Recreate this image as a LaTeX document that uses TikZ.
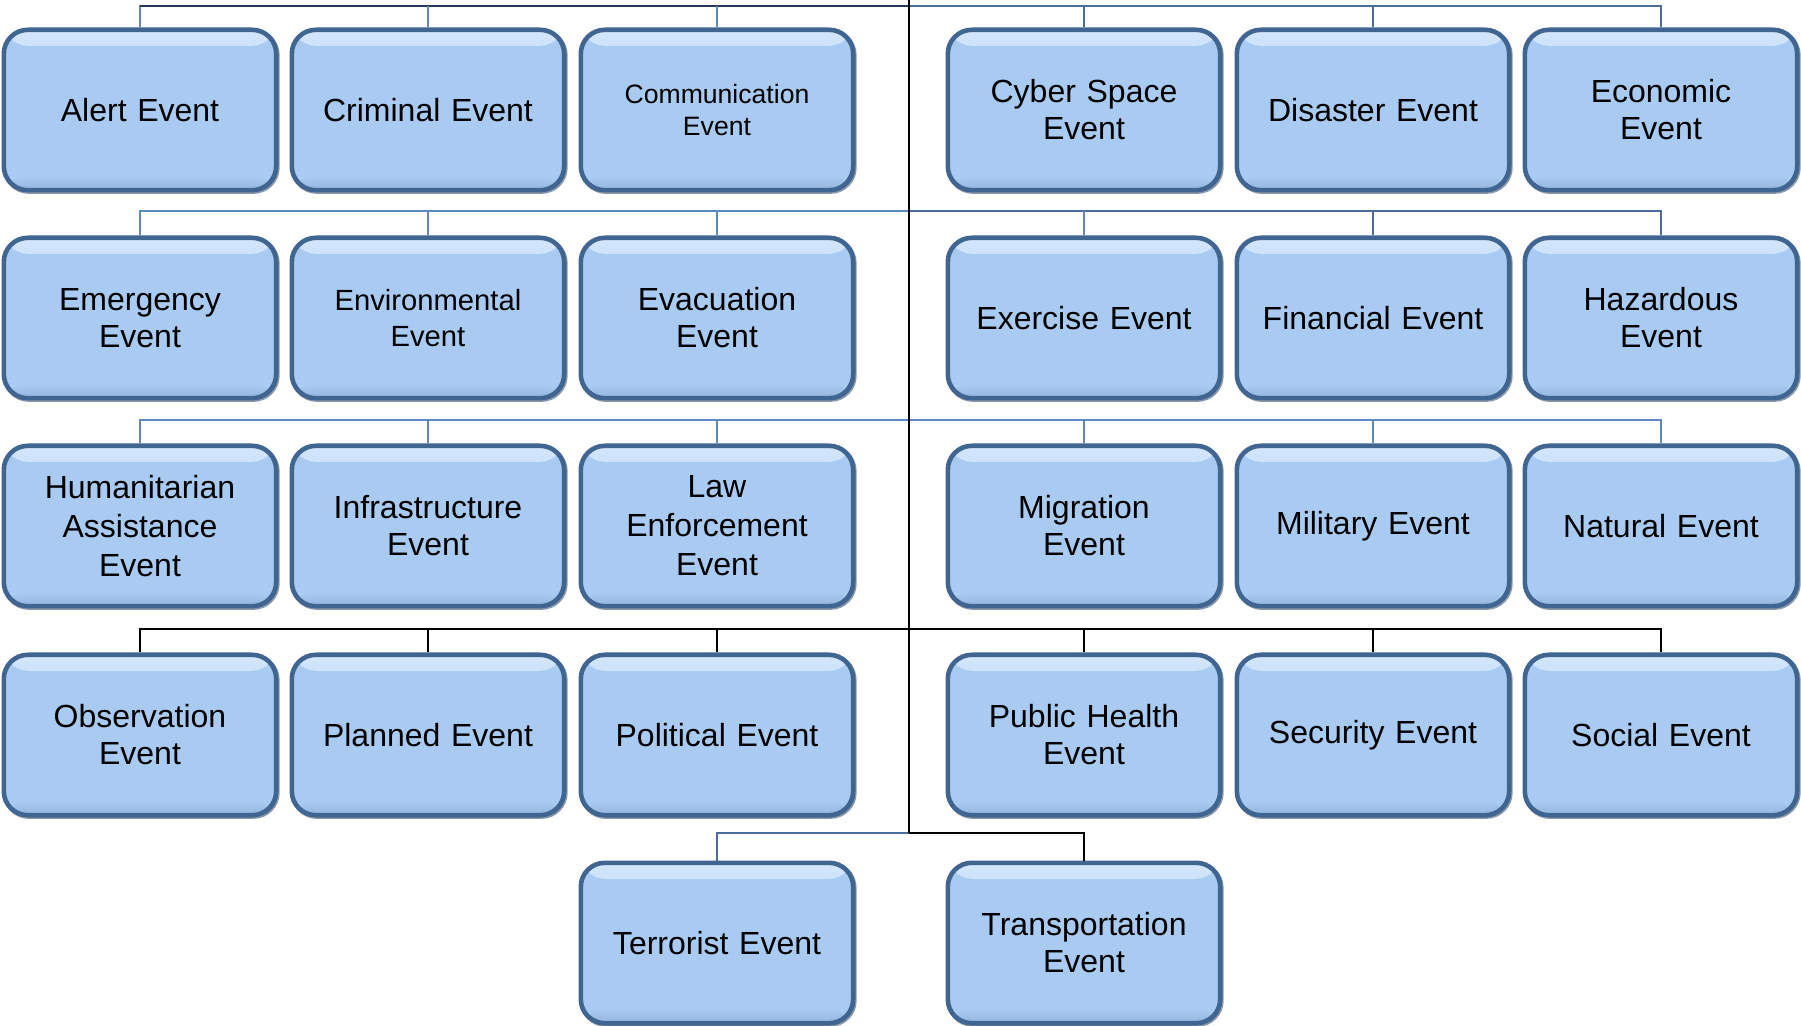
\documentclass[tikz,border=0pt]{standalone}
\usepackage{fontspec}
\setmainfont{Liberation Sans}
\definecolor{boxfill}{HTML}{A9CBF2}
\definecolor{boxhl}{HTML}{D2E6FB}
\definecolor{boxdark}{HTML}{93B5DD}
\definecolor{boxedge}{HTML}{3F6590}
\definecolor{boxshadow}{HTML}{2A4263}
\definecolor{steel}{HTML}{5B8AC3}
\definecolor{steeldark}{HTML}{4A6E99}
\definecolor{navy}{HTML}{23395A}
\tikzset{
  evbox/.style={draw=boxedge, line width=2.3pt, fill=boxfill, rounded corners=12pt,
    minimum width=136.2pt, minimum height=80.2pt, inner sep=2pt, align=center,
    font=\fontsize{16}{18.5}\selectfont, text width=128pt,
    preaction={draw=boxshadow, line width=2.3pt, opacity=0.55, transform canvas={shift={(0.6pt,-0.7pt)}}},
    path picture={
      \fill[top color=boxhl, bottom color=boxfill] (path picture bounding box.north west) rectangle ([yshift=-8pt]path picture bounding box.north east);
      \fill[top color=boxfill, bottom color=boxdark] ([yshift=7pt]path picture bounding box.south west) rectangle (path picture bounding box.south east);
    }},
  smalltext/.style={font=\fontsize{13.3}{16}\selectfont},
  midtext/.style={font=\fontsize{14.6}{17.8}\selectfont},
  bl/.style={draw=steel, line width=1pt},
  bld/.style={draw=steeldark, line width=1pt},
  nv/.style={draw=navy, line width=1.1pt},
  bk/.style={draw=black, line width=1.2pt}
}
\begin{document}
\begin{tikzpicture}[x=0.5pt,y=-0.5pt]
\useasboundingbox (0,0) rectangle (1801,1026);
\node[evbox] (alert) at (140,110) {Alert Event};
\node[evbox] (criminal) at (428,110) {Criminal Event};
\node[evbox, smalltext] (comm) at (717,110) {Communication\\Event};
\node[evbox] (cyber) at (1084,110) {Cyber Space\\Event};
\node[evbox] (disaster) at (1373,110) {Disaster Event};
\node[evbox] (economic) at (1661,110) {Economic\\Event};

\node[evbox] (emergency) at (140,318) {Emergency\\Event};
\node[evbox, midtext] (environmental) at (428,318) {Environmental\\Event};
\node[evbox] (evacuation) at (717,318) {Evacuation\\Event};
\node[evbox] (exercise) at (1084,318) {Exercise Event};
\node[evbox] (financial) at (1373,318) {Financial Event};
\node[evbox] (hazardous) at (1661,318) {Hazardous\\Event};

\node[evbox, font=\fontsize{16}{19.5}\selectfont] (humanitarian) at (140,526) {Humanitarian\\Assistance\\Event};
\node[evbox] (infrastructure) at (428,526) {Infrastructure\\Event};
\node[evbox, font=\fontsize{16}{19.5}\selectfont] (law) at (717,526) {Law\\Enforcement\\Event};
\node[evbox] (migration) at (1084,526) {Migration\\Event};
\node[evbox] (military) at (1373,526) {Military Event};
\node[evbox] (natural) at (1661,526) {Natural Event};

\node[evbox] (observation) at (140,735) {Observation\\Event};
\node[evbox] (planned) at (428,735) {Planned Event};
\node[evbox] (political) at (717,735) {Political Event};
\node[evbox] (publichealth) at (1084,735) {Public Health\\Event};
\node[evbox] (security) at (1373,735) {Security Event};
\node[evbox] (social) at (1661,735) {Social Event};

\node[evbox] (terrorist) at (717,943) {Terrorist Event};
\node[evbox] (transportation) at (1084,943) {Transportation\\Event};

% junctions on the trunk
\coordinate (root) at (909,0);
\coordinate (j1) at (909,6);
\coordinate (j2) at (909,211);
\coordinate (j3) at (909,420);
\coordinate (j4) at (909,629);
\coordinate (j5) at (909,833);

% row 1
\draw[bl] (alert.north) |- (j1);
\draw[nv] (alert.north |- j1) -- (j1);
\draw[bl] (criminal.north) -- (criminal.north |- j1);
\draw[bl] (comm.north) -- (comm.north |- j1);
\draw[bld] (economic.north) |- (j1);
\draw[bld] (cyber.north) -- (cyber.north |- j1);
\draw[bld] (disaster.north) -- (disaster.north |- j1);
% row 2
\draw[bl] (emergency.north) |- (j2);
\draw[bl] (environmental.north) -- (environmental.north |- j2);
\draw[bl] (evacuation.north) -- (evacuation.north |- j2);
\draw[bld] (hazardous.north) |- (j2);
\draw[bl] (exercise.north) -- (exercise.north |- j2);
\draw[bld] (financial.north) -- (financial.north |- j2);
% row 3
\draw[bl] (humanitarian.north) |- (j3);
\draw[bl] (infrastructure.north) -- (infrastructure.north |- j3);
\draw[bl] (law.north) -- (law.north |- j3);
\draw[bl] (natural.north) |- (j3);
\draw[bl] (migration.north) -- (migration.north |- j3);
\draw[bl] (military.north) -- (military.north |- j3);
% row 4
\draw[bk] (observation.north) |- (j4);
\draw[bk] (planned.north) -- (planned.north |- j4);
\draw[bk] (political.north) -- (political.north |- j4);
\draw[bk] (social.north) |- (j4);
\draw[bk] (publichealth.north) -- (publichealth.north |- j4);
\draw[bk] (security.north) -- (security.north |- j4);
% row 5
\draw[bld] (terrorist.north) |- (j5);
\draw[bk] (transportation.north) |- (j5);
% trunk
\draw[draw=black, line width=1.4pt] (root) -- (j5);
\end{tikzpicture}
\end{document}
